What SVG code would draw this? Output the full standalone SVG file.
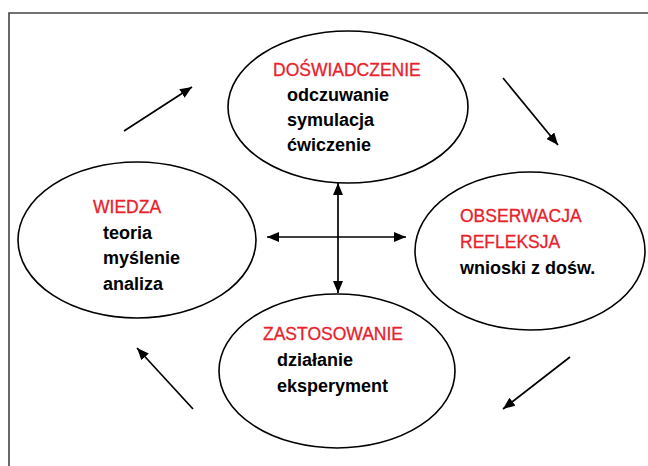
<svg xmlns="http://www.w3.org/2000/svg" width="648" height="466" viewBox="0 0 648 466">
<defs>
<marker id="ah" viewBox="0 0 12 10" refX="12" refY="5" markerWidth="12" markerHeight="10" markerUnits="userSpaceOnUse" orient="auto-start-reverse">
<path d="M0,0 L12,5 L0,10 Z" fill="#000"/>
</marker>
<style>
.node ellipse{fill:#fff;stroke:#000;stroke-width:1.6}
.t{font-family:"Liberation Sans",Arial,sans-serif;font-size:17.5px;fill:#e8212b;stroke:#e8212b;stroke-width:0.3}
.b{font-family:"Liberation Sans",Arial,sans-serif;font-size:18px;font-weight:bold;fill:#000}
.c line{stroke:#000;stroke-width:1.7;fill:none}
</style>
</defs>
<rect width="648" height="466" fill="#fff"/>
<path d="M9,466 L9,13 L648,13" fill="none" stroke="#444" stroke-width="1.6"/>
<g id="doswiadczenie" class="node">
<ellipse cx="348" cy="107" rx="120" ry="76"/>
<text class="t" x="273" y="76">DOŚWIADCZENIE</text>
<text class="b" x="287" y="101">odczuwanie</text>
<text class="b" x="287" y="126">symulacja</text>
<text class="b" x="287" y="151">ćwiczenie</text>
</g>
<g id="wiedza" class="node">
<ellipse cx="137" cy="240" rx="119" ry="78"/>
<text class="t" x="93" y="213">WIEDZA</text>
<text class="b" x="103" y="239">teoria</text>
<text class="b" x="103" y="264">myślenie</text>
<text class="b" x="103" y="290">analiza</text>
</g>
<g id="obserwacja" class="node">
<ellipse cx="530" cy="251" rx="115" ry="79"/>
<text class="t" x="460" y="222">OBSERWACJA</text>
<text class="t" x="460" y="248">REFLEKSJA</text>
<text class="b" x="460" y="274">wnioski z dośw.</text>
</g>
<g id="zastosowanie" class="node">
<ellipse cx="337" cy="371" rx="118" ry="77"/>
<text class="t" x="263" y="340">ZASTOSOWANIE</text>
<text class="b" x="277" y="366">działanie</text>
<text class="b" x="277" y="392">eksperyment</text>
</g>
<g id="connectors" class="c">
<line x1="124" y1="131" x2="192" y2="87" marker-end="url(#ah)"/>
<line x1="503" y1="78" x2="558" y2="145" marker-end="url(#ah)"/>
<line x1="570" y1="357" x2="503" y2="409" marker-end="url(#ah)"/>
<line x1="193" y1="409" x2="137" y2="348" marker-end="url(#ah)"/>
<line x1="338" y1="183" x2="338" y2="293" marker-start="url(#ah)" marker-end="url(#ah)"/>
<line x1="267" y1="237" x2="406" y2="237" marker-start="url(#ah)" marker-end="url(#ah)"/>
</g>
</svg>
